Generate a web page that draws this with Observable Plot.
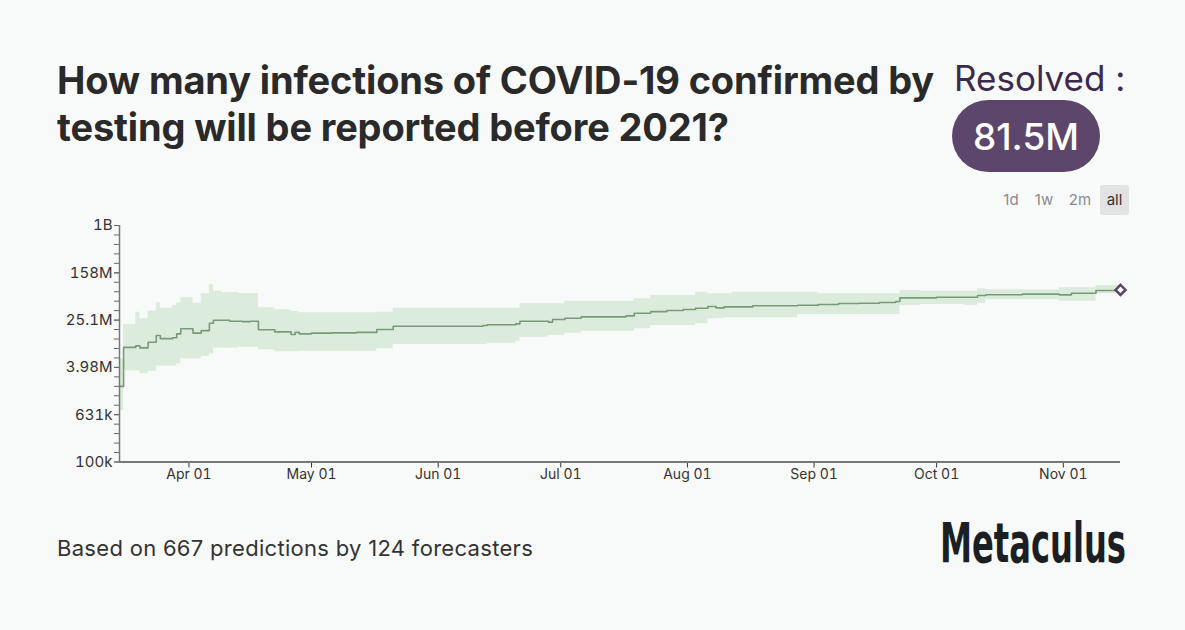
<!DOCTYPE html>
<html><head><meta charset="utf-8">
<script src="https://cdn.jsdelivr.net/npm/d3@7"></script>
<script src="https://cdn.jsdelivr.net/npm/@observablehq/plot@0.6"></script>
<style>
html,body{margin:0;padding:0;background:#f8f9f9;}
#wrap{position:relative;width:1185px;height:630px;overflow:hidden;font-family:Inter,"Noto Sans",sans-serif;}
#title{position:absolute;left:57px;top:57px;width:900px;font-size:38px;font-weight:700;line-height:47px;color:#2a2a2a;letter-spacing:-0.15px;}
#resolved{position:absolute;left:954px;top:56px;font-size:35px;line-height:44px;color:#3c2a4d;}
#pill{position:absolute;left:952px;top:100px;width:148px;height:72px;border-radius:36px;background:#5d466b;color:#fff;font-size:37px;font-weight:500;display:flex;align-items:center;justify-content:center;}
.rb{position:absolute;top:185px;height:30px;line-height:30px;font-size:15px;color:#8a8a8a;text-align:center;}
.rb.on{background:#e2e2e2;color:#333;border-radius:3px;}
#chart{position:absolute;left:0;top:215px;}
#footer{position:absolute;left:57px;top:534px;font-size:22px;line-height:28px;color:#333;letter-spacing:0.3px;}
#logo{position:absolute;left:940px;top:513px;font-family:'DejaVu Sans Condensed','Liberation Sans Narrow',sans-serif;font-weight:700;font-size:56px;line-height:60px;color:#1b1f24;white-space:nowrap;transform-origin:0 0;}
</style></head>
<body><div id="wrap">
<div id="title">How many infections of COVID-19 confirmed by testing will be reported before 2021?</div>
<div id="resolved">Resolved :</div>
<div id="pill">81.5M</div>
<div class="rb" style="left:999px;width:24px">1d</div>
<div class="rb" style="left:1031px;width:26px">1w</div>
<div class="rb" style="left:1066px;width:28px">2m</div>
<div class="rb on" style="left:1100px;width:29px">all</div>
<div id="chart"></div>
<div id="footer">Based on 667 predictions by 124 forecasters</div>
<div id="logo">Metaculus</div>
</div>
<script>
// ---- data ----
const medianDates = ["2020-03-15","2020-03-16","2020-03-19","2020-03-20","2020-03-22","2020-03-24","2020-03-25","2020-03-28","2020-03-29","2020-03-30","2020-04-02","2020-04-04","2020-04-06","2020-04-07","2020-04-11","2020-04-14","2020-04-16","2020-04-18","2020-04-22","2020-04-26","2020-04-27","2020-04-28","2020-05-01","2020-05-06","2020-05-12","2020-05-17","2020-05-21","2020-06-12","2020-06-13","2020-06-20","2020-06-21","2020-06-28","2020-06-29","2020-07-02","2020-07-06","2020-07-17","2020-07-19","2020-07-23","2020-07-27","2020-07-31","2020-08-03","2020-08-06","2020-08-08","2020-08-10","2020-08-17","2020-08-28","2020-09-02","2020-09-07","2020-09-12","2020-09-17","2020-09-21","2020-09-22","2020-10-01","2020-10-11","2020-10-13","2020-10-22","2020-10-31","2020-11-03","2020-11-09","2020-11-15"];
const medianM = [1.9,8.7,9.2,8.5,10.6,13.8,12.2,12.6,14.7,17.9,15.1,16.7,22.2,25.0,24.0,23.7,24.0,17.2,15.9,14.3,15.6,14.7,15.1,15.3,15.6,17.4,19.8,20.3,20.9,21.7,24.0,23.2,25.7,27.0,28.5,29.6,32.8,35.0,36.5,37.9,39.9,42.6,40.5,42.0,43.8,44.8,46.1,47.9,48.4,49.8,51.8,59.8,61.2,65.4,67.5,69.0,67.2,71.5,79.5,79.5];

const bandDates = ["2020-03-15","2020-03-16","2020-03-19","2020-03-20","2020-03-22","2020-03-24","2020-03-25","2020-03-28","2020-03-29","2020-03-30","2020-04-02","2020-04-04","2020-04-06","2020-04-07","2020-04-09","2020-04-13","2020-04-18","2020-04-22","2020-04-26","2020-04-28","2020-05-17","2020-05-21","2020-06-13","2020-06-20","2020-06-21","2020-06-28","2020-07-02","2020-07-06","2020-07-19","2020-07-23","2020-08-03","2020-08-06","2020-08-08","2020-08-10","2020-08-12","2020-08-28","2020-09-02","2020-09-22","2020-09-27","2020-10-08","2020-10-11","2020-10-13","2020-10-31","2020-11-09","2020-11-15"];
const lowerM = [0.74,3.5,3.5,3.1,3.4,4.2,4.2,4.2,4.6,5.6,5.6,6.1,6.7,8.5,8.4,8.7,7.9,7.3,7.3,7.5,8.2,9.7,10.2,11.0,12.9,13.8,15.1,16.3,17.9,20.3,21.7,26.4,26.7,27.4,27.4,31.2,31.2,44.3,46.1,44.3,48.4,55.3,52.4,69.9,69.9];
const upperM = [5.6,21.1,34.1,26.4,35.5,49.2,39.9,44.3,49.2,59.8,48.4,69.9,100,77.3,73.5,70.5,40.5,37.5,35.0,33.3,34.1,39.9,39.9,39.9,47.3,47.3,52.4,52.4,57.5,65.4,74.4,69.9,69.9,69.9,74.4,74.4,69.9,79.5,77.3,77.3,84.9,81.7,88.3,96.6,96.6];

const resolvedDate = "2020-11-15";
const resolvedM = 81.5;

const xDomain = ["2020-03-15","2020-11-15"];
const monthTicks = ["2020-04-01","2020-05-01","2020-06-01","2020-07-01","2020-08-01","2020-09-01","2020-10-01","2020-11-01"];
const yTickLabels = ["100k","631k","3.98M","25.1M","158M","1B"];
const yMajorValues = [1e5, 6.31e5, 3.98e6, 2.51e7, 1.58e8, 1e9];
const yMinorPerMajor = 5;

// ---- build ----
const P = d3.utcParse("%Y-%m-%d");
const median = medianDates.map((d,i)=>({date:P(d), v:medianM[i]*1e6}));
const band = bandDates.map((d,i)=>({date:P(d), lo:lowerM[i]*1e6, hi:upperM[i]*1e6}));
const nSteps = (yTickLabels.length-1)*yMinorPerMajor;
const yTicks = d3.range(0, nSteps+1).map(k => Math.pow(10, 5 + 4*k/nSteps));

const chart = Plot.plot({
  width: 1185, height: 275,
  marginLeft: 119, marginRight: 65, marginTop: 10, marginBottom: 28.5,
  style: {background: "transparent", fontFamily: "Inter, 'Noto Sans', sans-serif", fontSize: "14px", color: "#333"},
  x: {type: "utc", domain: xDomain.map(P)},
  y: {type: "log", domain: [1e5, 1e9]},
  marks: [
    Plot.areaY(band, {x: "date", y1: "lo", y2: "hi", curve: "step-after", fill: "#dcecdc", fillOpacity: 1}),
    Plot.line(median, {x: "date", y: "v", curve: "step-after", stroke: "#789a78", strokeWidth: 1.6}),
    Plot.axisY({ticks: yTicks, tickFormat: () => "", tickSize: 5, stroke: "#666"}),
    Plot.axisY(yMajorValues, {text: yTickLabels, tickSize: 5, tickPadding: 2, fontSize: 15, stroke: "#666"}),
    Plot.axisX({ticks: monthTicks.map(P), tickFormat: d3.utcFormat("%b %d"), tickSize: 6, tickPadding: 1, fontSize: 14}),
    Plot.ruleY([1e5], {stroke: "#777", strokeWidth: 2}),
    Plot.ruleX([P(xDomain[0])], {y1: 1e5, y2: 1e9, stroke: "#777", strokeWidth: 1.5}),
    Plot.dot([{date: P(resolvedDate), v: resolvedM*1e6}], {x: "date", y: "v", symbol: "diamond2", r: 4.5, stroke: "#5d466b", strokeWidth: 2.5, fill: "#f8f9f9"})
  ]
});
document.getElementById("chart").appendChild(chart);

// fit logo to its width
const logo = document.getElementById("logo");
const w = logo.getBoundingClientRect().width;
logo.style.transform = `scaleX(${186 / w})`;
</script>
</body></html>
